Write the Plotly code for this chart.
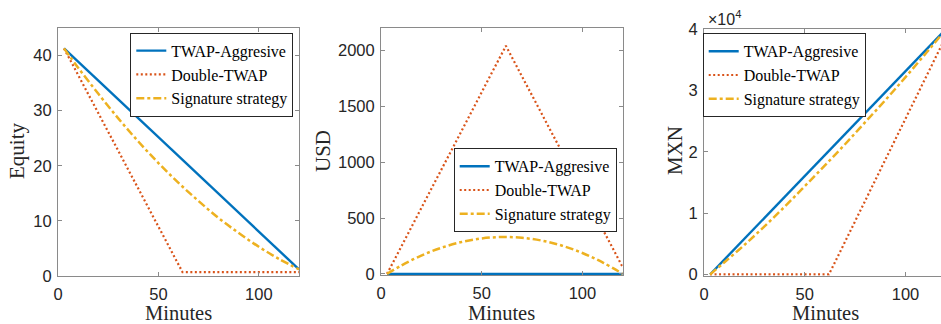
import plotly.graph_objects as go

# ---------------- data ----------------
names = ["TWAP-Aggresive", "Double-TWAP", "Signature strategy"]

minutes_twap = [3, 120]
equity_twap = [41.3, 1.2]
usd_twap = [0, 0]
mxn_twap = [0, 40000]

minutes_dbl = [3, 62, 120]
equity_dbl = [41.3, 0.7, 0.7]
usd_dbl = [0, 2040, 60]
mxn_dbl = [0, 0, 38800]

minutes_sig = [3, 10, 20, 30, 40, 50, 60, 70, 80, 90, 100, 110, 120]
equity_sig = [41.3, 37.8, 33.1, 28.6, 24.4, 20.5, 16.9, 13.6, 10.5, 7.8, 5.3, 3.1, 1.2]
usd_sig = [0, 74, 164, 234, 285, 317, 330, 323, 297, 252, 187, 103, 0]
mxn_sig = [0, 1950, 4800, 7850, 11050, 14400, 17800, 21250, 24850, 28450, 32200, 36050, 39950]

equity_ticks = [0, 10, 20, 30, 40]
usd_ticks = [0, 500, 1000, 1500, 2000]
mxn_ticks = [0, 10000, 20000, 30000, 40000]
mxn_ticktext = ["0", "1", "2", "3", "4"]
x_ticks = [0, 50, 100]

# ---------------- style ----------------
W, H = 941, 324
BLUE, RED, YEL = "#0072BD", "#D95319", "#EDB120"
AX = "#8a8a8a"
TXT = "#262626"
SANS = "Liberation Sans"
SERIF = "Liberation Serif"
TICKFONT = dict(family=SANS, size=16.5, color=TXT)

styles = [
    dict(color=BLUE, width=2.4, dash="solid"),
    dict(color=RED, width=2.2, dash="2px,2.5px"),
    dict(color=YEL, width=2.5, dash="8px,3px,3px,3px"),
]

# pixel geometry of the plot areas (left, right, top, bottom)
boxes = [(58, 299, 28, 276), (381, 622.7, 28, 275), (704, 941, 29.3, 275.7)]

def xd(l, r):
    return [l / W, r / W]

def yd(t, b):
    return [(H - b) / H, (H - t) / H]

fig = go.Figure()

panels = [
    (equity_twap, equity_dbl, equity_sig),
    (usd_twap, usd_dbl, usd_sig),
    (mxn_twap, mxn_dbl, mxn_sig),
]
legends = ["legend", "legend2", "legend3"]
for i, (ya, yb, yc) in enumerate(panels):
    xs = "x" if i == 0 else f"x{i+1}"
    ys = "y" if i == 0 else f"y{i+1}"
    for k, (xx, yy) in enumerate([(minutes_twap, ya), (minutes_dbl, yb), (minutes_sig, yc)]):
        fig.add_trace(go.Scatter(
            x=xx, y=yy, mode="lines", name=names[k],
            line=dict(**styles[k], shape="spline" if k == 2 else "linear"),
            xaxis=xs, yaxis=ys, legend=legends[i], showlegend=True,
        ))

axis_common = dict(
    showgrid=False, zeroline=False, showline=True, linecolor=AX, linewidth=1,
    ticks="inside", ticklen=4, tickcolor=AX, tickfont=TICKFONT, automargin=False,
)

layout = dict(
    width=W, height=H, margin=dict(l=0, r=0, t=0, b=0, pad=0, autoexpand=False),
    paper_bgcolor="white", plot_bgcolor="white",
)

yranges = [[0, 45], [-10, 2200], [-200, 40000]]
yticks = [equity_ticks, usd_ticks, mxn_ticks]
xranges = [[0, 120], [0, 120], [0, 117.6]]
for i, (l, r, t, b) in enumerate(boxes):
    sx = "" if i == 0 else str(i + 1)
    xa = dict(axis_common, domain=xd(l, r), range=xranges[i], tickvals=x_ticks,
              anchor="y" + sx, mirror="ticks", ticklabelstandoff=3)
    ya = dict(axis_common, domain=yd(t, b), range=yranges[i], tickvals=yticks[i],
              anchor="x" + sx, mirror="ticks" if i < 2 else False, ticklabelstandoff=2)
    if i == 2:
        ya["ticktext"] = mxn_ticktext
    layout["xaxis" + sx] = xa
    layout["yaxis" + sx] = ya

legend_common = dict(
    bgcolor="white", bordercolor=TXT, borderwidth=1,
    font=dict(family=SERIF, size=16, color="black"),
    xanchor="right", yanchor="top", tracegroupgap=0, itemwidth=30,
)
legend_pos = [(293.3, 32.7), (616.7, 148.3), (865.7, 33.3)]
for i, (lx, ly) in enumerate(legend_pos):
    key = legends[i]
    layout[key] = dict(legend_common, x=lx / W, y=(H - ly) / H)

annotations = []
for i, (l, r, t, b) in enumerate(boxes):
    cx = (l + (l + 242)) / 2 if i == 2 else (l + r) / 2
    annotations.append(dict(text="Minutes", x=cx / W, y=0, xref="paper", yref="paper",
                            showarrow=False, font=dict(family=SERIF, size=20.5, color=TXT),
                            xanchor="center", yanchor="bottom", yshift=-2))
ylabels = [("Equity", 17), ("USD", 323), ("MXN", 675)]
for text, px in ylabels:
    annotations.append(dict(text=text, x=px / W, y=(H - 151) / H, xref="paper", yref="paper",
                            showarrow=False, textangle=-90,
                            font=dict(family=SERIF, size=21, color=TXT),
                            xanchor="center", yanchor="middle"))
annotations.append(dict(text="×10<sup>4</sup>", x=706 / W, y=(H - 18) / H, xref="paper", yref="paper",
                        showarrow=False, font=dict(family=SANS, size=16, color=TXT),
                        xanchor="left", yanchor="middle"))
layout["annotations"] = annotations

fig.update_layout(**layout)
fig.write_html("out.html")
